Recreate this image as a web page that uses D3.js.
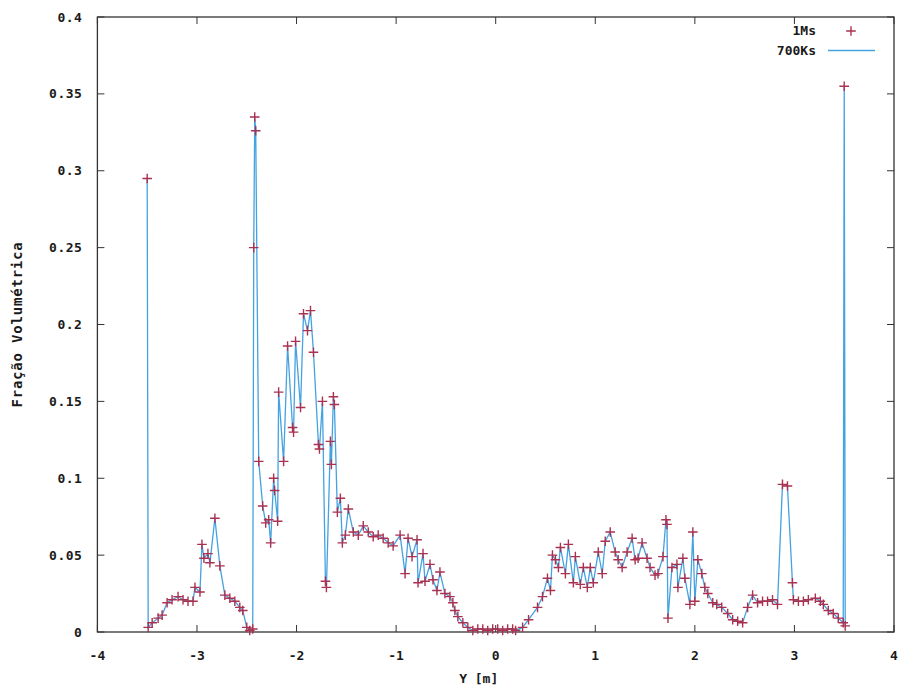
<!DOCTYPE html>
<html><head><meta charset="utf-8">
<script src="https://cdn.jsdelivr.net/npm/d3@7"></script>
<style>body{margin:0;background:#fff}text{font-family:"DejaVu Sans Mono",monospace;font-weight:bold;fill:#1a1a1a}</style>
</head><body><svg id="c" width="903" height="691"></svg>
<script>
const posY = [-3.50,-3.49,-3.45,-3.39,-3.35,-3.30,-3.25,-3.19,-3.14,-3.09,-3.04,-3.02,-2.97,-2.95,-2.93,-2.89,-2.87,-2.82,-2.77,-2.72,-2.67,-2.62,-2.57,-2.54,-2.50,-2.47,-2.44,-2.43,-2.42,-2.41,-2.38,-2.34,-2.31,-2.28,-2.26,-2.23,-2.22,-2.19,-2.18,-2.13,-2.09,-2.04,-2.03,-2.01,-1.96,-1.93,-1.89,-1.86,-1.83,-1.78,-1.77,-1.74,-1.71,-1.70,-1.66,-1.65,-1.63,-1.62,-1.59,-1.56,-1.54,-1.51,-1.48,-1.43,-1.38,-1.33,-1.28,-1.23,-1.18,-1.13,-1.08,-1.03,-0.96,-0.91,-0.88,-0.84,-0.79,-0.78,-0.73,-0.71,-0.66,-0.63,-0.59,-0.56,-0.51,-0.46,-0.43,-0.41,-0.38,-0.33,-0.28,-0.23,-0.18,-0.13,-0.08,-0.03,0.02,0.07,0.12,0.17,0.20,0.27,0.33,0.42,0.47,0.52,0.55,0.57,0.60,0.63,0.65,0.70,0.73,0.78,0.80,0.85,0.88,0.92,0.95,0.98,1.03,1.07,1.10,1.15,1.20,1.23,1.27,1.32,1.37,1.40,1.43,1.47,1.52,1.55,1.60,1.63,1.68,1.71,1.72,1.73,1.77,1.82,1.83,1.88,1.90,1.95,1.98,2.00,2.03,2.07,2.10,2.13,2.18,2.22,2.27,2.33,2.38,2.43,2.48,2.53,2.58,2.63,2.68,2.73,2.78,2.83,2.88,2.93,2.98,2.99,3.04,3.09,3.14,3.21,3.26,3.29,3.34,3.39,3.44,3.49,3.50,3.51];
const fracao1Ms = [0.295,0.003,0.006,0.009,0.011,0.019,0.021,0.023,0.021,0.020,0.020,0.029,0.026,0.057,0.048,0.051,0.045,0.074,0.043,0.024,0.022,0.020,0.016,0.014,0.003,0.001,0.002,0.250,0.335,0.326,0.111,0.082,0.071,0.073,0.058,0.100,0.092,0.072,0.156,0.111,0.186,0.133,0.130,0.189,0.146,0.207,0.196,0.209,0.182,0.122,0.119,0.150,0.033,0.029,0.124,0.109,0.153,0.148,0.078,0.087,0.058,0.063,0.080,0.065,0.063,0.069,0.065,0.062,0.063,0.061,0.058,0.056,0.063,0.038,0.061,0.049,0.060,0.032,0.051,0.033,0.044,0.034,0.027,0.039,0.025,0.023,0.019,0.014,0.010,0.006,0.003,0.001,0.002,0.002,0.001,0.002,0.002,0.001,0.002,0.002,0.001,0.003,0.008,0.016,0.023,0.035,0.027,0.050,0.047,0.042,0.055,0.038,0.057,0.032,0.049,0.031,0.042,0.029,0.042,0.032,0.052,0.038,0.059,0.065,0.052,0.047,0.042,0.052,0.061,0.047,0.048,0.058,0.048,0.042,0.037,0.038,0.049,0.073,0.070,0.009,0.042,0.044,0.029,0.048,0.035,0.018,0.065,0.020,0.047,0.038,0.029,0.025,0.019,0.018,0.016,0.012,0.008,0.007,0.006,0.016,0.024,0.019,0.020,0.020,0.021,0.018,0.096,0.095,0.032,0.021,0.020,0.020,0.021,0.022,0.020,0.018,0.014,0.012,0.009,0.006,0.355,0.004];
const fracao700Ks = fracao1Ms.slice();
const xTicks = [-4,-3,-2,-1,0,1,2,3,4];
const yTicks = [0,0.05,0.1,0.15,0.2,0.25,0.3,0.35,0.4];
const seriesNames = ["1Ms","700Ks"];

const svg = d3.select("#c");
const L=97.4, R=894, T=17, B=632;
const x = d3.scaleLinear().domain([-4,4]).range([L,R]);
const y = d3.scaleLinear().domain([0,0.4]).range([B,T]);
const red="#aa3150", blue="#44a2e0", ink="#333";

const tk = svg.append("g").attr("stroke",ink).attr("stroke-width",1);
yTicks.forEach(v=>{
  tk.append("line").attr("x1",L).attr("x2",L+7).attr("y1",y(v)).attr("y2",y(v));
  tk.append("line").attr("x1",R).attr("x2",R-7).attr("y1",y(v)).attr("y2",y(v));
});
xTicks.forEach(v=>{
  tk.append("line").attr("x1",x(v)).attr("x2",x(v)).attr("y1",B).attr("y2",B-7);
  tk.append("line").attr("x1",x(v)).attr("x2",x(v)).attr("y1",T).attr("y2",T+7);
});
svg.append("rect").attr("x",L).attr("y",T).attr("width",R-L).attr("height",B-T)
  .attr("fill","none").attr("stroke",ink).attr("stroke-width",1.3);

svg.append("g").selectAll("text").data(yTicks).join("text")
  .attr("x",L-15).attr("y",d=>y(d)+4.5).attr("text-anchor","end").attr("font-size",13)
  .attr("letter-spacing",0.5).text(d=>d3.format("")(d));
svg.append("g").selectAll("text").data(xTicks).join("text")
  .attr("x",d=>x(d)).attr("y",B+28).attr("text-anchor","middle").attr("font-size",13)
  .text(d=>d);

svg.append("text").attr("x",(L+R)/2-17).attr("y",683).attr("text-anchor","middle").attr("font-size",13).text("Y [m]");
svg.append("text").attr("transform","translate(22,"+((T+B)/2)+") rotate(-90)").attr("text-anchor","middle").attr("font-size",14).attr("letter-spacing",0.8).text("Fração Volumétrica");

const pts = posY.map((p,i)=>[p,fracao700Ks[i]]);
svg.append("path").attr("d",d3.line().x(d=>x(d[0])).y(d=>y(d[1]))(pts))
  .attr("fill","none").attr("stroke",blue).attr("stroke-width",1.3);

const cross = (cx,cy,s)=>`M${cx-s},${cy}H${cx+s}M${cx},${cy-s}V${cy+s}`;
svg.append("g").selectAll("path").data(posY.map((p,i)=>[p,fracao1Ms[i]])).join("path")
  .attr("d",d=>cross(x(d[0]),y(d[1]),4.8)).attr("stroke",red).attr("stroke-width",1.4).attr("fill","none");

svg.append("text").attr("x",816).attr("y",35).attr("text-anchor","end").attr("font-size",13).text(seriesNames[0]);
svg.append("text").attr("x",816).attr("y",55).attr("text-anchor","end").attr("font-size",13).text(seriesNames[1]);
svg.append("path").attr("d",cross(851,31,4.8)).attr("stroke",red).attr("stroke-width",1.4);
svg.append("line").attr("x1",828).attr("x2",875).attr("y1",50.5).attr("y2",50.5).attr("stroke",blue).attr("stroke-width",1.3);
</script></body></html>
